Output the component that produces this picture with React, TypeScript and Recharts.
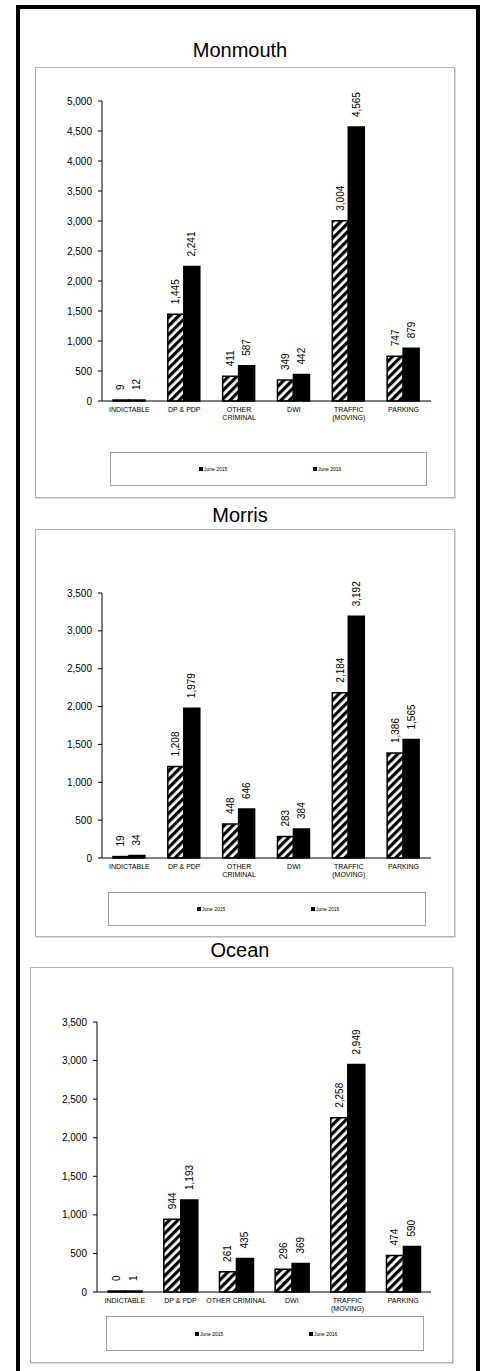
import React from "react";
import { BarChart, Bar, XAxis, YAxis, LabelList } from "recharts";

// categories (\n = line break in the axis label)
const categoriesTwoLine = ["INDICTABLE", "DP & PDP", "OTHER\nCRIMINAL", "DWI", "TRAFFIC\n(MOVING)", "PARKING"];
const categoriesOcean = ["INDICTABLE", "DP & PDP", "OTHER CRIMINAL", "DWI", "TRAFFIC\n(MOVING)", "PARKING"];

const monmouth2015 = [9, 1445, 411, 349, 3004, 747];
const monmouth2016 = [12, 2241, 587, 442, 4565, 879];
const morris2015 = [19, 1208, 448, 283, 2184, 1386];
const morris2016 = [34, 1979, 646, 384, 3192, 1565];
const ocean2015 = [0, 944, 261, 296, 2258, 474];
const ocean2016 = [1, 1193, 435, 369, 2949, 590];

const ticks5000 = [0, 500, 1000, 1500, 2000, 2500, 3000, 3500, 4000, 4500, 5000];
const ticks3500 = [0, 500, 1000, 1500, 2000, 2500, 3000, 3500];

const seriesNames = ["June 2015", "June 2016"];

const FONT = "Arial, 'Liberation Sans', sans-serif";

function CatTick(props: any) {
  const { x, y, payload } = props;
  const lines = String(payload.value).split("\n");
  return (
    <text x={x} y={y + 9} textAnchor="middle" fontSize={7} fill="#000" fontFamily={FONT}>
      {lines.map((l, i) => (
        <tspan key={i} x={x} dy={i === 0 ? 0 : 8}>
          {l}
        </tspan>
      ))}
    </text>
  );
}

const valueLabel = (props: any) => {
  const { x, y, width, height, value } = props;
  const cx = x + width / 2;
  // bars of zero value still get their label just above the axis
  const top = Math.min(y, y + (height || 0));
  const ty = top - 10;
  return (
    <text
      x={cx}
      y={ty}
      transform={`rotate(-90 ${cx} ${ty})`}
      textAnchor="start"
      dominantBaseline="central"
      fontSize={10}
      fill="#000"
      fontFamily={FONT}
    >
      {Number(value).toLocaleString("en-US")}
    </text>
  );
};

interface PanelProps {
  id: string;
  title: string;
  titleTop: number;
  box: { left: number; top: number; width: number; height: number };
  margin: { top: number; right: number; bottom: number; left: number };
  legend: { left: number; top: number; width: number; height: number };
  categories: string[];
  a: number[];
  b: number[];
  max: number;
  ticks: number[];
}

function Panel(p: PanelProps) {
  const data = p.categories.map((c, i) => ({ name: c, a: p.a[i], b: p.b[i] }));
  return (
    <>
      <div
        style={{
          position: "absolute",
          left: 0,
          width: 480,
          top: p.titleTop,
          textAlign: "center",
          fontSize: 20,
          fontFamily: FONT,
          lineHeight: "20px",
        }}
      >
        {p.title}
      </div>
      <div
        style={{
          position: "absolute",
          left: p.box.left,
          top: p.box.top,
          width: p.box.width - 2,
          height: p.box.height - 2,
          border: "1px solid #b4b4b4",
          boxShadow: "1px 1px 0 #dcdcdc",
        }}
      />
      <div style={{ position: "absolute", left: p.box.left, top: p.box.top }}>
        <BarChart
          width={p.box.width}
          height={p.box.height}
          data={data}
          margin={p.margin}
          barCategoryGap="20%"
          barGap={0}
        >
          <defs>
            <pattern
              id={`hatch-${p.id}`}
              patternUnits="userSpaceOnUse"
              width="6"
              height="6"
              patternTransform="rotate(45)"
            >
              <rect width="6" height="6" fill="#fff" />
              <rect width="3.2" height="6" fill="#000" />
            </pattern>
          </defs>
          <XAxis
            dataKey="name"
            interval={0}
            tickLine={false}
            tickSize={0}
            height={30}
            axisLine={{ stroke: "#000", strokeWidth: 1 }}
            tick={<CatTick />}
          />
          <YAxis
            width={67}
            domain={[0, p.max]}
            ticks={p.ticks}
            interval={0}
            tickSize={4}
            tickMargin={6}
            axisLine={{ stroke: "#000", strokeWidth: 1 }}
            tickLine={{ stroke: "#000" }}
            tick={{ fontSize: 10, fill: "#000", fontFamily: FONT }}
            tickFormatter={(v: number) => v.toLocaleString("en-US")}
          />
          <Bar
            dataKey="a"
            name={seriesNames[0]}
            fill={`url(#hatch-${p.id})`}
            stroke="#000"
            strokeWidth={1.5}
            minPointSize={1}
            isAnimationActive={false}
          >
            <LabelList dataKey="a" content={valueLabel} />
          </Bar>
          <Bar
            dataKey="b"
            name={seriesNames[1]}
            fill="#000"
            stroke="#000"
            strokeWidth={1.5}
            minPointSize={1}
            isAnimationActive={false}
          >
            <LabelList dataKey="b" content={valueLabel} />
          </Bar>
        </BarChart>
      </div>
      <div
        style={{
          position: "absolute",
          left: p.legend.left,
          top: p.legend.top,
          width: p.legend.width - 2,
          height: p.legend.height - 2,
          border: "1px solid #a0a0a0",
          fontFamily: FONT,
          fontSize: 5,
        }}
      >
        {seriesNames.map((n, i) => (
          <div
            key={n}
            style={{
              position: "absolute",
              left: 88 + i * 114,
              top: p.legend.height / 2 - 4,
              display: "flex",
              alignItems: "center",
              whiteSpace: "nowrap",
            }}
          >
            <span style={{ display: "inline-block", width: 4, height: 4, background: "#000", marginRight: 1 }} />
            <span>{n}</span>
          </div>
        ))}
      </div>
    </>
  );
}

export default function App() {
  return (
    <div
      style={{
        position: "absolute",
        left: 0,
        top: 0,
        width: 480,
        height: 1371,
        overflow: "hidden",
        background: "#fff",
      }}
    >
      <div
        style={{
          position: "absolute",
          left: 16,
          top: 5,
          width: 456,
          height: 1400,
          border: "4px solid #000",
        }}
      />
      <Panel
        id="monmouth"
        title="Monmouth"
        titleTop={40}
        box={{ left: 35, top: 67, width: 420, height: 431 }}
        margin={{ top: 34, right: 24, bottom: 67, left: 0 }}
        legend={{ left: 110, top: 452, width: 317, height: 34 }}
        categories={categoriesTwoLine}
        a={monmouth2015}
        b={monmouth2016}
        max={5000}
        ticks={ticks5000}
      />
      <Panel
        id="morris"
        title="Morris"
        titleTop={505}
        box={{ left: 35, top: 529, width: 420, height: 408 }}
        margin={{ top: 64, right: 24, bottom: 49, left: 0 }}
        legend={{ left: 108, top: 892, width: 318, height: 34 }}
        categories={categoriesTwoLine}
        a={morris2015}
        b={morris2016}
        max={3500}
        ticks={ticks3500}
      />
      <Panel
        id="ocean"
        title="Ocean"
        titleTop={940}
        box={{ left: 30, top: 967, width: 423, height: 396 }}
        margin={{ top: 55, right: 22, bottom: 41, left: 0 }}
        legend={{ left: 106, top: 1316, width: 318, height: 35 }}
        categories={categoriesOcean}
        a={ocean2015}
        b={ocean2016}
        max={3500}
        ticks={ticks3500}
      />
    </div>
  );
}
